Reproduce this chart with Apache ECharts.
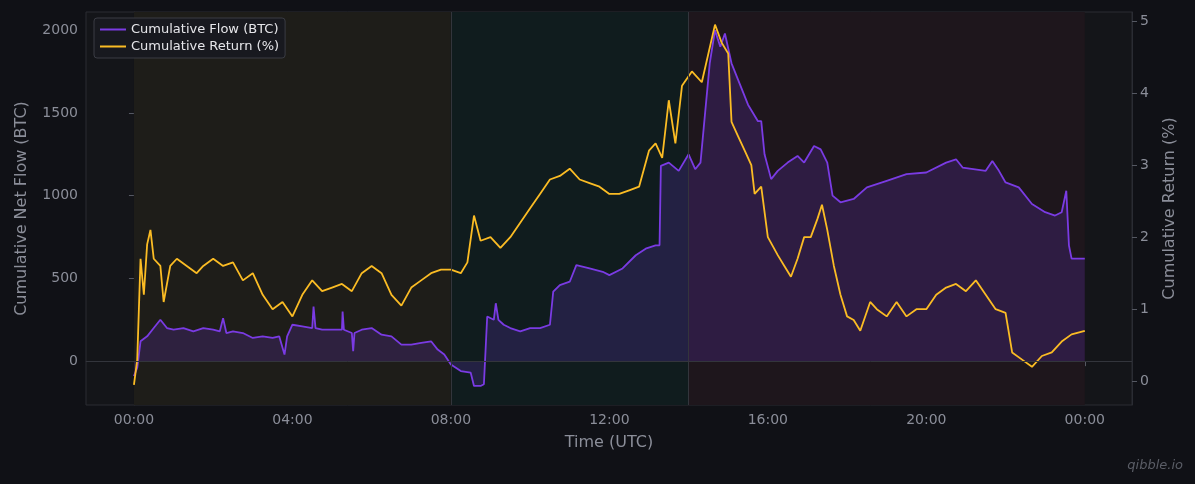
<!DOCTYPE html>
<html lang="en">
<head>
<meta charset="UTF-8"/>
<title>Cumulative Flow vs Return</title>
<script src="https://cdn.jsdelivr.net/npm/echarts@6/dist/echarts.min.js"></script>
<style>
  html, body { margin: 0; padding: 0; background: #101116; }
  #main { width: 1195px; height: 484px; }
  #mark { position: absolute; right: 12px; bottom: 12px; font: italic 13px "DejaVu Sans", sans-serif; color: #5a5d66; }
</style>
</head>
<body>
<div id="main"></div>
<div id="mark">qibble.io</div>
<script>
// time in minutes since 00:00 UTC
var flowTime = [0,5,10,20,30,40,50,60,75,90,105,120,130,135,140,150,165,180,195,210,220,228,232,240,255,270,272,275,285,300,315,316,318,330,332,334,345,360,375,390,405,420,435,450,460,470,480,495,510,515,525,530,535,545,548,552,560,570,585,600,615,630,635,645,660,670,690,710,720,740,760,775,790,796,798,810,825,840,850,858,865,872,880,888,895,905,915,930,945,950,955,965,975,990,1005,1015,1030,1040,1050,1058,1070,1090,1110,1140,1170,1200,1230,1245,1255,1290,1300,1310,1320,1340,1360,1380,1395,1405,1412,1416,1420,1440];
var flowValue = [-90,-40,120,150,200,250,200,190,200,180,200,190,180,260,170,180,170,140,150,140,150,40,150,220,210,200,330,200,190,190,190,300,190,170,60,170,190,200,160,150,100,100,110,120,70,40,-20,-60,-70,-150,-150,-140,270,250,350,250,220,200,180,200,200,220,420,460,480,580,560,540,520,560,640,680,700,700,1180,1200,1150,1250,1160,1200,1500,1800,2000,1900,1980,1800,1700,1550,1450,1450,1250,1100,1150,1200,1240,1200,1300,1280,1200,1000,960,980,1050,1090,1130,1140,1200,1220,1170,1150,1210,1150,1080,1050,950,900,880,900,1030,700,620,620];

var retTime = [0,5,10,15,20,25,30,40,45,55,65,80,95,105,120,135,150,165,180,195,210,225,240,255,270,285,300,315,330,345,360,375,390,405,420,435,450,465,480,495,505,515,525,540,555,570,585,600,615,630,645,660,675,690,705,720,735,750,765,780,790,800,810,820,830,845,860,870,880,890,900,905,915,925,935,940,950,960,975,985,995,1005,1015,1025,1035,1042,1050,1060,1070,1080,1090,1100,1115,1125,1140,1155,1170,1185,1200,1215,1230,1245,1260,1275,1290,1305,1320,1330,1345,1360,1375,1390,1405,1420,1440];
var retValue = [-0.05,0.3,1.7,1.2,1.9,2.1,1.7,1.6,1.1,1.6,1.7,1.6,1.5,1.6,1.7,1.6,1.65,1.4,1.5,1.2,1.0,1.1,0.9,1.2,1.4,1.25,1.3,1.35,1.25,1.5,1.6,1.5,1.2,1.05,1.3,1.4,1.5,1.55,1.55,1.5,1.65,2.3,1.95,2.0,1.85,2.0,2.2,2.4,2.6,2.8,2.85,2.95,2.8,2.75,2.7,2.6,2.6,2.65,2.7,3.2,3.3,3.1,3.9,3.3,4.1,4.3,4.15,4.55,4.95,4.7,4.55,3.6,3.4,3.2,3.0,2.6,2.7,2.0,1.75,1.6,1.45,1.7,2.0,2.0,2.25,2.45,2.1,1.6,1.2,0.9,0.85,0.7,1.1,1.0,0.9,1.1,0.9,1.0,1.0,1.2,1.3,1.35,1.25,1.4,1.2,1.0,0.95,0.4,0.3,0.2,0.35,0.4,0.55,0.65,0.7];

var xTicks = [0,240,480,720,960,1200,1440];
var leftTicks = [0,500,1000,1500,2000];
var rightTicks = [0,1,2,3,4,5];
var sessions = [[0,480,'#1e1d19'],[480,840,'#101c1e'],[840,1440,'#1e161c']];

function zip(a, b) { return a.map(function (t, i) { return [t, b[i]]; }); }
function hhmm(m) { m = m % 1440; var h = Math.floor(m / 60); return (h < 10 ? '0' : '') + h + ':00'; }

var lbl = { color: '#8b8e99', fontSize: 14, fontFamily: 'DejaVu Sans' };
var axisName = { color: '#8b8e99', fontSize: 16, fontFamily: 'DejaVu Sans' };
var axisLine = { show: true, lineStyle: { color: '#2a2c33' } };

var chart = echarts.init(document.getElementById('main'));
chart.setOption({
  backgroundColor: '#101116',
  animation: false,
  grid: { left: 86, right: 63, top: 12, bottom: 79, show: true, backgroundColor: '#141519', borderColor: '#2a2c33' },
  legend: {
    left: 94, top: 18, orient: 'vertical', itemGap: 4, itemWidth: 26, itemHeight: 2,
    backgroundColor: '#18191f', borderColor: '#3a3c44', borderWidth: 1, borderRadius: 3, padding: [5, 6],
    textStyle: { color: '#e6e6ea', fontSize: 13, fontFamily: 'DejaVu Sans' },
    data: [{ name: 'Cumulative Flow (BTC)', icon: 'rect' }, { name: 'Cumulative Return (%)', icon: 'rect' }]
  },
  xAxis: {
    type: 'value', min: -72.6, max: 1511.5,
    name: 'Time (UTC)', nameLocation: 'middle', nameGap: 30, nameTextStyle: axisName,
    axisLine: axisLine, splitLine: { show: false },
    axisTick: { show: true, customValues: xTicks, lineStyle: { color: '#555862' } },
    axisLabel: Object.assign({ customValues: xTicks, formatter: hhmm }, lbl)
  },
  yAxis: [{
    type: 'value', min: -265, max: 2110,
    name: 'Cumulative Net Flow (BTC)', nameLocation: 'middle', nameGap: 56, nameTextStyle: axisName,
    axisLine: axisLine, splitLine: { show: false },
    axisTick: { show: true, customValues: leftTicks, lineStyle: { color: '#555862' } },
    axisLabel: Object.assign({ customValues: leftTicks, formatter: function (v) { return String(v); } }, lbl)
  }, {
    type: 'value', min: -0.33, max: 5.125, position: 'right',
    name: 'Cumulative Return (%)', nameLocation: 'middle', nameGap: 30, nameTextStyle: axisName,
    axisLine: axisLine, splitLine: { show: false },
    axisTick: { show: true, customValues: rightTicks, lineStyle: { color: '#555862' } },
    axisLabel: Object.assign({ customValues: rightTicks }, lbl)
  }],
  series: [{
    name: 'Cumulative Flow (BTC)', type: 'line', yAxisIndex: 0, symbol: 'none',
    data: zip(flowTime, flowValue), color: '#7a3be3',
    lineStyle: { width: 1.8, color: '#7a3be3' },
    areaStyle: { color: 'rgba(110,50,210,0.3)', origin: 0 },
    markArea: {
      silent: true,
      data: sessions.map(function (s) { return [{ xAxis: s[0], itemStyle: { color: s[2] } }, { xAxis: s[1] }]; })
    },
    markLine: {
      silent: true, symbol: 'none', label: { show: false },
      lineStyle: { color: '#33353c', width: 1, type: 'solid' },
      data: [{ yAxis: 0 }, { xAxis: 480 }, { xAxis: 840 }]
    },
    z: 2
  }, {
    name: 'Cumulative Return (%)', type: 'line', yAxisIndex: 1, symbol: 'none',
    data: zip(retTime, retValue), color: '#fbbc24',
    lineStyle: { width: 1.8, color: '#fbbc24' }, z: 3
  }]
});
</script>
</body>
</html>
